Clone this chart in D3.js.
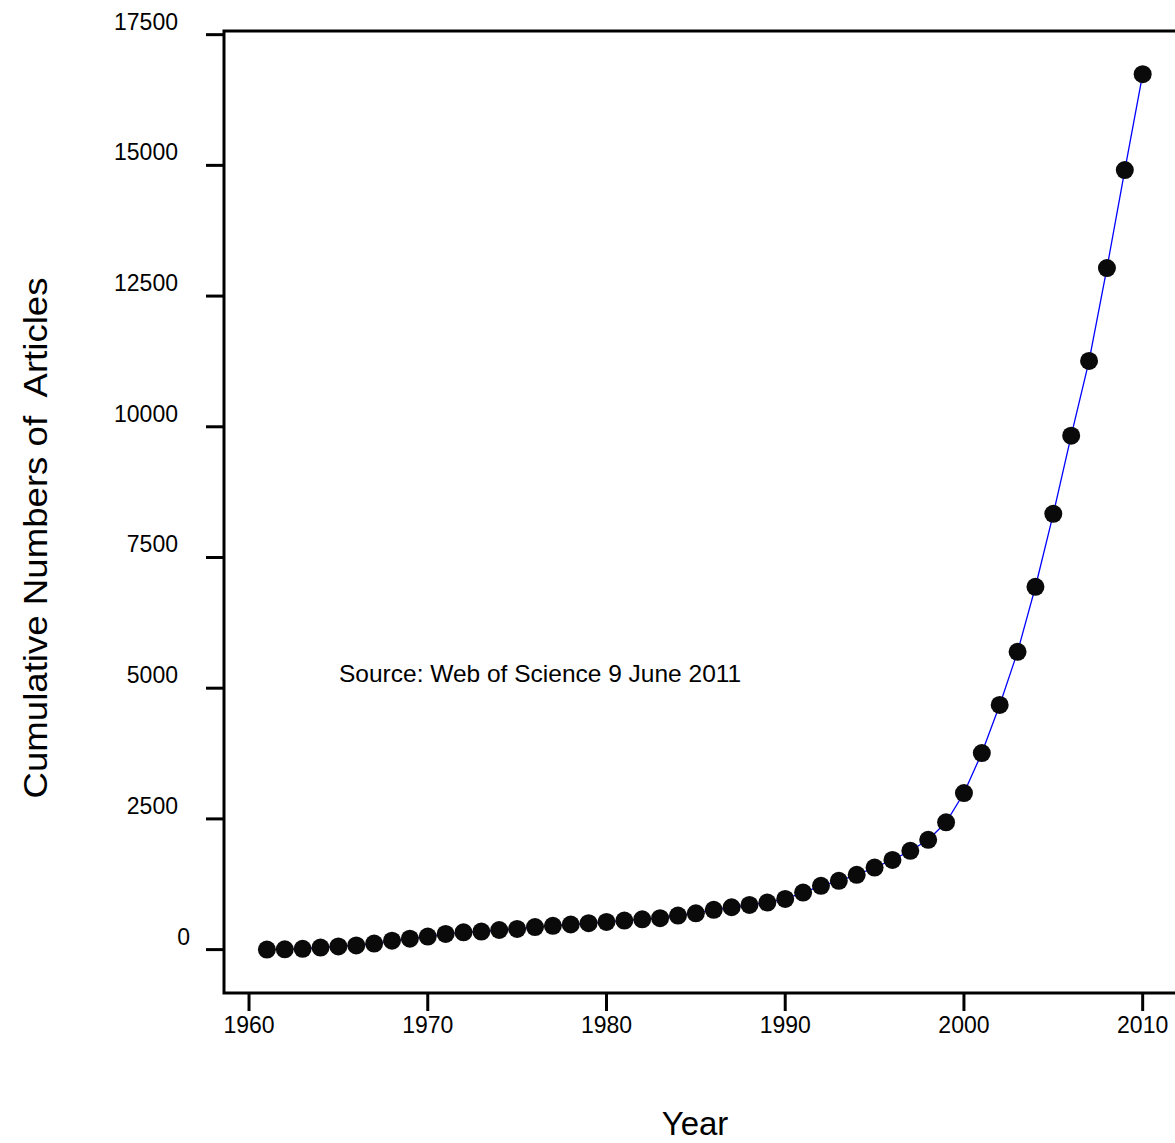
<!DOCTYPE html>
<html>
<head>
<meta charset="utf-8">
<script src="https://cdn.jsdelivr.net/npm/d3@7"></script>
<style>
  html, body { margin: 0; padding: 0; background: #fff; }
  svg { display: block; }
  text { font-family: "Liberation Sans", Arial, Helvetica, sans-serif; fill: #000; white-space: pre; }
</style>
</head>
<body>
<svg id="chart" width="1175" height="1143"></svg>
<script>
// Cumulative article counts per year (Web of Science, 9 June 2011)
const years = [
  1961, 1962, 1963, 1964, 1965, 1966, 1967, 1968, 1969, 1970,
  1971, 1972, 1973, 1974, 1975, 1976, 1977, 1978, 1979, 1980,
  1981, 1982, 1983, 1984, 1985, 1986, 1987, 1988, 1989, 1990,
  1991, 1992, 1993, 1994, 1995, 1996, 1997, 1998, 1999, 2000,
  2001, 2002, 2003, 2004, 2005, 2006, 2007, 2008, 2009, 2010
];
const cumulativeArticles = [
  0, 5, 15, 40, 60, 80, 115, 170, 210, 250,
  300, 330, 345, 375, 395, 430, 455, 480, 505, 530,
  555, 580, 600, 650, 695, 760, 810, 855, 900, 970,
  1090, 1220, 1315, 1430, 1570, 1715, 1890, 2100, 2435, 2995,
  3760, 4680, 5695, 6940, 8335, 9830, 11260, 13035, 14910, 16745
];
const xTicks = [1960, 1970, 1980, 1990, 2000, 2010];
const yTicks = [0, 2500, 5000, 7500, 10000, 12500, 15000, 17500];

const xTitle = "Year";
const yTitle = "Cumulative Numbers of  Articles";
const sourceNote = "Source: Web of Science 9 June 2011";

const svg = d3.select("#chart");

const x = d3.scaleLinear().domain([1958.6, 2012.2]).range([224, 1182]);
const y = d3.scaleLinear().domain([-830, 17570]).range([993, 31]);

const data = years.map((yr, i) => ({ year: yr, value: cumulativeArticles[i] }));

// frame: left, top and bottom edges of the plot box
const [x0, x1] = x.range();
const [yb, yt] = y.range();
svg.append("path")
  .attr("d", `M${x1},${yt}H${x0}V${yb}H${x1}`)
  .attr("fill", "none")
  .attr("stroke", "#000")
  .attr("stroke-width", 3);

// y axis ticks + labels
const yAxis = svg.append("g");
yAxis.selectAll("line")
  .data(yTicks)
  .join("line")
  .attr("x1", x0 - 18).attr("x2", x0)
  .attr("y1", d => y(d)).attr("y2", d => y(d))
  .attr("stroke", "#000").attr("stroke-width", 3);
yAxis.selectAll("text")
  .data(yTicks)
  .join("text")
  .attr("x", d => d === 0 ? 190 : 178)
  .attr("y", d => y(d) - 5)
  .attr("text-anchor", "end")
  .attr("font-size", 23)
  .text(d => d);

// x axis ticks + labels
const xAxis = svg.append("g");
xAxis.selectAll("line")
  .data(xTicks)
  .join("line")
  .attr("x1", d => x(d)).attr("x2", d => x(d))
  .attr("y1", yb).attr("y2", yb + 18)
  .attr("stroke", "#000").attr("stroke-width", 3);
xAxis.selectAll("text")
  .data(xTicks)
  .join("text")
  .attr("x", d => x(d))
  .attr("y", 1033)
  .attr("text-anchor", "middle")
  .attr("font-size", 23)
  .text(d => d);

// connecting line
const line = d3.line().x(d => x(d.year)).y(d => y(d.value));
svg.append("path")
  .datum(data)
  .attr("d", line)
  .attr("fill", "none")
  .attr("stroke", "#0000ff")
  .attr("stroke-width", 1.3);

// markers
svg.append("g")
  .selectAll("circle")
  .data(data)
  .join("circle")
  .attr("cx", d => x(d.year))
  .attr("cy", d => y(d.value))
  .attr("r", 9)
  .attr("fill", "#0a0a0a");

// annotation
svg.append("text")
  .attr("x", 339)
  .attr("y", 682)
  .attr("font-size", 24.5)
  .text(sourceNote);

// axis titles
svg.append("text")
  .attr("x", 695)
  .attr("y", 1135)
  .attr("text-anchor", "middle")
  .attr("font-size", 33)
  .text(xTitle);

// y title is drawn stretched along its length
svg.append("text")
  .attr("transform", "translate(47,538) rotate(-90) scale(1.11,1)")
  .attr("text-anchor", "middle")
  .attr("font-size", 33)
  .text(yTitle);
</script>
</body>
</html>
